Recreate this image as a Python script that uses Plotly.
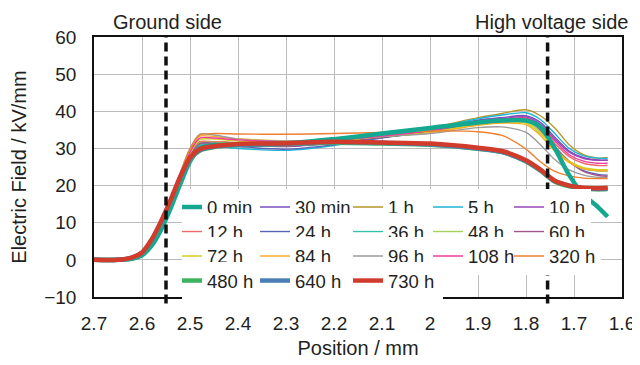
import plotly.graph_objects as go

# Position grid (mm)
position = [2.70, 2.65, 2.62, 2.60, 2.58, 2.56, 2.54, 2.52, 2.50, 2.48, 2.45, 2.40,
            2.30, 2.20, 2.10, 2.00, 1.90, 1.85, 1.80, 1.77, 1.74, 1.71, 1.68, 1.65, 1.63]

# Electric field (kV/mm) for each aging time
e_0min = [0, 0, 0.3, 1.2, 3.8, 8.2, 14.0, 20.5, 26.5, 30.0, 30.9, 31.0, 31.3, 32.5, 34.0, 35.5, 37.0, 37.5, 37.5, 35.8, 30.0, 22.8, 17.5, 14.2, 11.6]
e_30min = [0, 0, 0.5, 1.6, 4.8, 9.8, 15.8, 22.3, 28.0, 31.3, 31.4, 31.0, 30.6, 31.5, 33.2, 35.0, 37.6, 38.3, 38.8, 37.0, 33.0, 29.3, 27.5, 26.9, 26.8]
e_1h = [0, 0, 0.5, 1.6, 4.8, 9.8, 15.8, 22.3, 28.0, 31.5, 31.8, 31.5, 31.3, 32.0, 33.5, 35.5, 38.3, 39.4, 40.4, 38.8, 35.5, 31.0, 28.3, 27.4, 27.5]
e_5h = [0, 0, 0.3, 1.2, 3.8, 8.2, 14.0, 20.8, 27.0, 30.5, 30.6, 30.0, 29.5, 30.8, 33.0, 35.3, 38.0, 39.0, 39.6, 37.8, 34.0, 30.0, 28.0, 27.4, 27.3]
e_10h = [0, 0, 0.5, 1.6, 4.8, 9.8, 15.8, 22.3, 28.0, 31.4, 31.5, 31.0, 30.5, 31.5, 33.0, 34.9, 37.3, 38.0, 38.5, 36.5, 32.5, 29.0, 27.3, 26.8, 26.8]
e_12h = [0, 0, 0.5, 1.6, 4.8, 9.8, 15.8, 22.3, 28.2, 31.8, 31.8, 31.5, 31.2, 31.8, 33.0, 34.4, 36.8, 37.5, 37.8, 35.5, 31.3, 27.8, 26.0, 25.4, 25.4]
e_24h = [0, 0, 0.4, 1.4, 4.3, 9.0, 15.0, 21.6, 27.5, 30.9, 31.0, 30.5, 29.8, 31.0, 32.8, 34.6, 37.0, 37.8, 38.0, 35.3, 30.5, 26.5, 24.0, 23.0, 22.8]
e_36h = [0, 0, 0.4, 1.4, 4.3, 9.0, 15.0, 21.6, 27.5, 30.9, 31.0, 30.8, 31.0, 32.2, 33.6, 35.2, 37.0, 37.8, 37.8, 35.5, 30.5, 26.5, 24.5, 24.0, 24.0]
e_48h = [0, 0, 0.5, 1.6, 4.8, 9.8, 15.8, 22.3, 28.0, 31.5, 31.6, 31.4, 31.3, 32.0, 33.2, 34.6, 36.6, 37.2, 37.2, 34.5, 30.0, 26.6, 24.6, 24.0, 23.9]
e_60h = [0, 0, 0.5, 1.6, 4.8, 9.8, 15.8, 22.3, 28.0, 31.3, 31.4, 31.0, 30.6, 31.5, 33.0, 34.7, 36.9, 37.6, 37.7, 35.0, 30.3, 26.5, 23.8, 22.7, 22.5]
e_72h = [0, 0, 0.5, 1.6, 4.9, 10.0, 16.2, 23.0, 28.8, 32.4, 32.5, 32.0, 31.6, 32.0, 33.2, 34.3, 36.4, 37.0, 36.8, 34.0, 29.8, 26.5, 24.8, 24.3, 24.3]
e_84h = [0, 0, 0.5, 1.7, 5.0, 10.2, 16.5, 23.3, 29.5, 33.3, 33.2, 32.6, 32.0, 32.3, 33.3, 34.2, 36.2, 36.8, 36.4, 33.5, 29.3, 26.2, 24.5, 24.0, 24.0]
e_96h = [0, 0, 0.5, 1.7, 5.0, 10.2, 16.5, 23.5, 30.0, 33.8, 33.6, 32.5, 32.0, 32.3, 33.2, 34.0, 35.6, 35.8, 34.3, 31.0, 27.0, 24.2, 22.8, 22.2, 22.1]
e_108h = [0, 0, 0.5, 1.6, 4.9, 10.0, 16.2, 23.0, 29.0, 32.8, 32.8, 32.3, 31.8, 32.2, 33.3, 34.8, 37.0, 37.8, 38.2, 36.0, 32.0, 28.3, 26.6, 26.0, 26.0]
e_320h = [0, 0, 0.5, 1.7, 5.0, 10.2, 16.5, 23.5, 29.8, 33.6, 34.0, 33.9, 33.8, 34.0, 34.3, 34.7, 34.5, 33.5, 29.8, 26.4, 23.8, 22.6, 22.0, 21.9, 21.9]
e_480h = [0, 0, 0.6, 1.8, 5.1, 10.0, 15.8, 22.0, 27.0, 29.4, 30.4, 30.9, 31.2, 31.5, 31.3, 31.0, 29.9, 29.0, 26.5, 24.0, 21.0, 19.8, 19.2, 19.0, 19.1]
e_640h = [0, 0, 0.6, 1.9, 5.3, 10.2, 16.0, 22.2, 27.2, 29.6, 30.5, 31.0, 31.3, 31.7, 31.5, 31.1, 30.0, 29.1, 26.6, 24.2, 21.2, 20.0, 19.3, 19.1, 19.2]
e_730h = [0, 0, 0.7, 2.0, 5.5, 10.5, 16.3, 22.5, 27.5, 29.8, 30.6, 31.2, 31.4, 31.8, 31.6, 31.3, 30.2, 29.3, 26.8, 24.3, 21.3, 20.0, 19.4, 19.3, 19.4]

labels = ["0 min", "30 min", "1 h", "5 h", "10 h",
          "12 h", "24 h", "36 h", "48 h", "60 h",
          "72 h", "84 h", "96 h", "108 h", "320 h",
          "480 h", "640 h", "730 h"]
values = [e_0min, e_30min, e_1h, e_5h, e_10h,
          e_12h, e_24h, e_36h, e_48h, e_60h,
          e_72h, e_84h, e_96h, e_108h, e_320h,
          e_480h, e_640h, e_730h]
colors = ["#13a88f", "#7a4fc0", "#b3962a", "#1fb5d6", "#9a44b6",
          "#f0666a", "#5a62b5", "#35c4ab", "#a6d157", "#a0568c",
          "#d6cf1e", "#f6ae28", "#9b9b9b", "#ec3d9c", "#ef7f31",
          "#3bb35f", "#4a7fb5", "#d13b2b"]
thick = {"0 min", "480 h", "640 h", "730 h"}

ground_x = 2.55
hv_x = 1.755

# one legend per row
legend_rows = ["legend", "legend2", "legend3", "legend4"]
col_widths = [58, 63, 50, 51, None]

fig = go.Figure()
# thin lines first, thick ones on top
order = [i for i, l in enumerate(labels) if l not in thick] + \
        [labels.index(l) for l in ["0 min", "480 h", "640 h", "730 h"]]
for i in order:
    lab = labels[i]
    row, col = divmod(i, 5)
    kw = {}
    if col_widths[col] is not None:
        kw["legendwidth"] = col_widths[col]
    fig.add_trace(go.Scatter(
        x=position, y=values[i], name=lab, mode="lines",
        line=dict(color=colors[i], width=4.5 if lab in thick else 1.4,
                  shape="spline", smoothing=0.8),
        legend=legend_rows[row], legendrank=i + 1, **kw))

font_family = "Liberation Sans, Arial, Helvetica, sans-serif"
axis_common = dict(showgrid=True, gridcolor="#bcbcbc", gridwidth=1.4,
                   showline=True, linecolor="#111", linewidth=1.6, mirror=True,
                   ticks="", zeroline=False, automargin=False, tickfont=dict(size=19))

legend_common = dict(orientation="h", xanchor="left", yanchor="middle",
                     bgcolor="white", borderwidth=0, font=dict(size=18.5),
                     itemwidth=30, indentation=-15)
row_y = [0.3442, 0.2500, 0.1558, 0.0615]
lx = 0.1667

# the page body adds an 8px offset, so the figure is 8px smaller on each axis
fig.update_layout(
    width=632, height=357,
    margin=dict(l=86, r=18, t=29, b=68),
    plot_bgcolor="white", paper_bgcolor="white",
    font=dict(family=font_family, size=19, color="#231f20"),
    xaxis=dict(range=[2.7, 1.6], tick0=1.6, dtick=0.1, ticklabelstandoff=8,
               title=dict(text="Position / mm", font=dict(size=20), standoff=8),
               **axis_common),
    yaxis=dict(range=[-10, 60], dtick=10, ticklabelstandoff=12,
               title=dict(text="Electric Field / kV/mm", font=dict(size=20), standoff=16),
               **axis_common),
    legend=dict(x=lx, y=row_y[0], **legend_common),
    legend2=dict(x=lx, y=row_y[1], **legend_common),
    legend3=dict(x=lx, y=row_y[2], **legend_common),
    legend4=dict(x=lx, y=row_y[3], **legend_common),
    shapes=[
        dict(type="line", xref="x", yref="paper", x0=ground_x, x1=ground_x, y0=-0.025, y1=1,
             line=dict(color="#111", width=3.5, dash="9px,5px"), layer="above"),
        dict(type="line", xref="x", yref="paper", x0=hv_x, x1=hv_x, y0=-0.025, y1=1,
             line=dict(color="#111", width=3.5, dash="9px,5px"), layer="above"),
    ],
    annotations=[
        dict(text="Ground side", xref="paper", yref="paper", x=0.140, y=1.058,
             xanchor="center", yanchor="middle", showarrow=False, font=dict(size=20)),
        dict(text="High voltage side", xref="paper", yref="paper", x=0.867, y=1.058,
             xanchor="center", yanchor="middle", showarrow=False, font=dict(size=20)),
    ],
)

fig.write_html("out.html")
